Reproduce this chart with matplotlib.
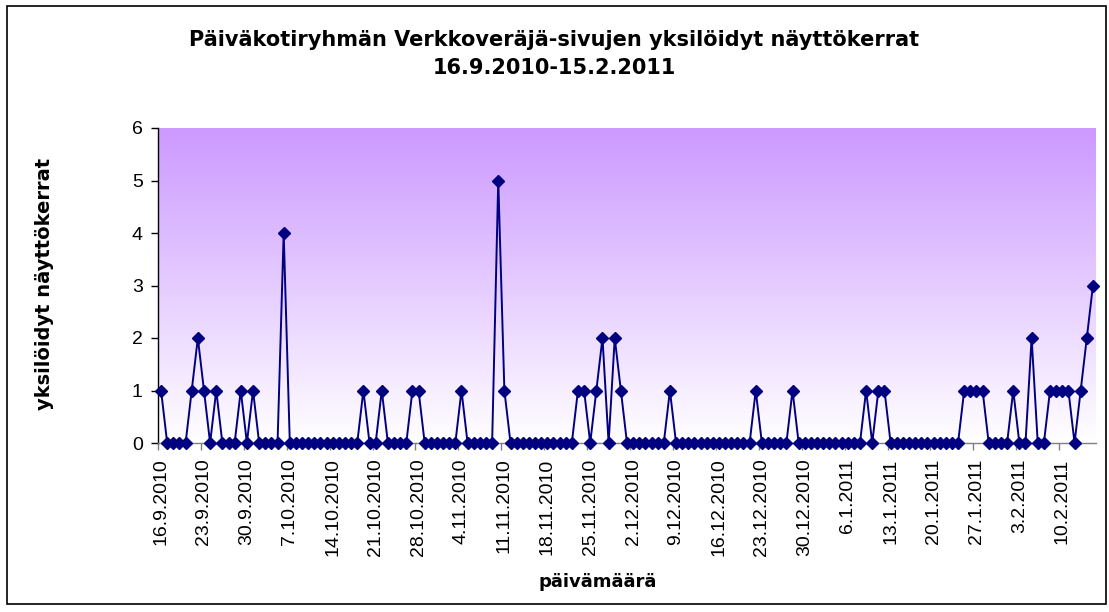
import matplotlib
matplotlib.use("Agg")
import matplotlib.pyplot as plt
import numpy as np
from matplotlib.patches import Rectangle

# ---- data ----
title_line1 = "Päiväkotiryhmän Verkkoveräjä-sivujen yksilöidyt näyttökerrat"
title_line2 = "16.9.2010-15.2.2011"
x_title = "päivämäärä"
y_title = "yksilöidyt näyttökerrat"

# daily unique views, 16.9.2010 ... 15.2.2011 (153 days)
views = [
    1, 0, 0, 0, 0, 1, 2, 1, 0, 1, 0, 0, 0, 1, 0, 1, 0, 0, 0, 0, 4, 0, 0, 0, 0, 0,
    0, 0, 0, 0, 0, 0, 0, 1, 0, 0, 1, 0, 0, 0, 0, 1, 1, 0, 0, 0, 0, 0, 0, 1, 0, 0,
    0, 0, 0, 5, 1, 0, 0, 0, 0, 0, 0, 0, 0, 0, 0, 0, 1, 1, 0, 1, 2, 0, 2, 1, 0, 0,
    0, 0, 0, 0, 0, 1, 0, 0, 0, 0, 0, 0, 0, 0, 0, 0, 0, 0, 0, 1, 0, 0, 0, 0, 0, 1,
    0, 0, 0, 0, 0, 0, 0, 0, 0, 0, 0, 1, 0, 1, 1, 0, 0, 0, 0, 0, 0, 0, 0, 0, 0,
    0, 0, 1, 1, 1, 1, 0, 0, 0, 0, 1, 0, 0, 2, 0, 0, 1, 1, 1, 1, 0, 1, 2, 3,
]

tick_labels = [
    "16.9.2010", "23.9.2010", "30.9.2010", "7.10.2010", "14.10.2010",
    "21.10.2010", "28.10.2010", "4.11.2010", "11.11.2010", "18.11.2010",
    "25.11.2010", "2.12.2010", "9.12.2010", "16.12.2010", "23.12.2010",
    "30.12.2010", "6.1.2011", "13.1.2011", "20.1.2011", "27.1.2011",
    "3.2.2011", "10.2.2011",
]
label_step = 7
y_ticks = [0, 1, 2, 3, 4, 5, 6]

# ---- figure ----
W, H = 1109, 612
fig = plt.figure(figsize=(W / 100, H / 100), dpi=100)
fig.patch.set_facecolor("white")

left, right, top, bottom = 158, 1096, 128, 443
ax = fig.add_axes([left / W, 1 - bottom / H, (right - left) / W, (bottom - top) / H])

n = len(views)
x = np.arange(n)
ax.set_xlim(-0.5, n - 0.5)
ax.set_ylim(0, 6)

# gradient background (lavender top -> white bottom)
top_c = np.array([204, 153, 255]) / 255.0
bot_c = np.array([255, 255, 255]) / 255.0
t = np.linspace(0, 1, 256)[:, None]
grad = top_c[None, :] * (1 - t) + bot_c[None, :] * t
grad = grad[:, None, :]
ax.imshow(grad, extent=[0, 1, 0, 1], transform=ax.transAxes, aspect="auto",
          zorder=0, interpolation="bicubic")

ax.plot(x, views, color="#000080", lw=1.4, marker="D", markersize=6,
        markerfacecolor="#000080", markeredgecolor="#000080", zorder=3,
        clip_on=False)

for s in ["top", "right"]:
    ax.spines[s].set_visible(False)
ax.spines["left"].set_color("black")
ax.spines["bottom"].set_color("#808080")
ax.spines["left"].set_linewidth(1.0)
ax.spines["bottom"].set_linewidth(1.0)

# y ticks
ax.set_yticks(y_ticks)
ax.set_yticklabels([str(v) for v in y_ticks], fontfamily="Liberation Sans", fontsize=14)
ax.tick_params(axis="y", direction="out", length=5, width=1, color="black", pad=6)

# x ticks: labels centred on categories, tick marks between categories
label_pos = np.arange(len(tick_labels)) * label_step
ax.set_xticks(label_pos)
ax.set_xticklabels(tick_labels, rotation=90, fontfamily="Liberation Sans", fontsize=14,
                   va="top", ha="center")
ax.tick_params(axis="x", which="major", length=0, pad=11)
ax.set_xticks(label_pos - 0.5, minor=True)
ax.tick_params(axis="x", which="minor", direction="out", length=5, width=1, color="#808080")

# titles
fig.text(554.5 / W, 1 - 40 / H, title_line1, ha="center", va="center",
         fontsize=15, fontweight="bold", family="DejaVu Sans")
fig.text(554.5 / W, 1 - 68 / H, title_line2, ha="center", va="center",
         fontsize=15, fontweight="bold", family="DejaVu Sans")
fig.text(598 / W, 1 - 582 / H, x_title, ha="center", va="center",
         fontsize=13, fontweight="bold", family="DejaVu Sans")
fig.text(45 / W, 1 - 284 / H, y_title, ha="center", va="center", rotation=90,
         fontsize=14, fontweight="bold", family="DejaVu Sans")

# outer chart border
fig.patches.append(Rectangle((7 / W, 1 - 604 / H), 1099 / W, 598 / H,
                             transform=fig.transFigure, fill=False,
                             edgecolor="black", lw=1.2))

fig.savefig("out.png", dpi=100)
